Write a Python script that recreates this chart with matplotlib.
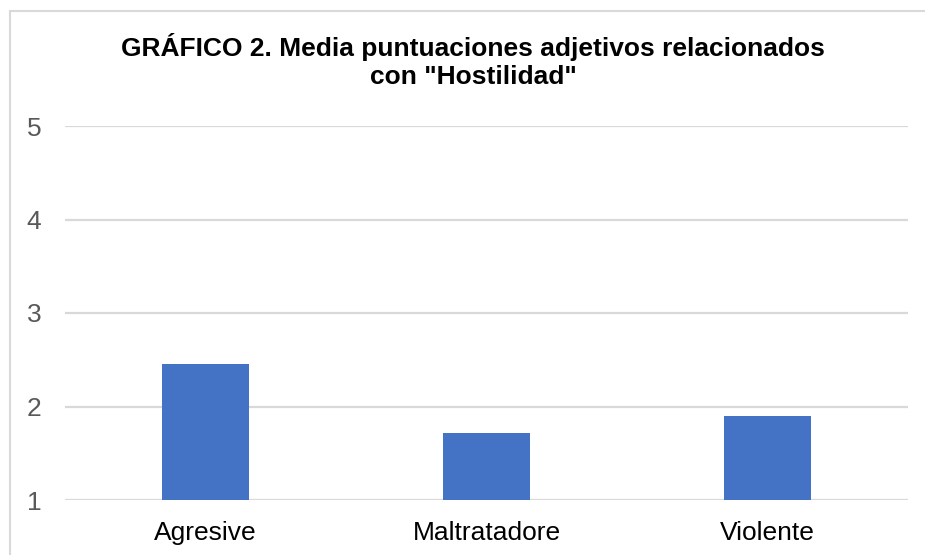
import matplotlib.pyplot as plt
from matplotlib.patches import Rectangle

# datos
categorias = ['Agresive', 'Maltratadore', 'Violente']
medias = [2.45, 1.72, 1.90]
yticks = [1, 2, 3, 4, 5]

W, H = 925, 555
fig = plt.figure(figsize=(W / 100, H / 100), dpi=100, facecolor='white')
plt.rcParams['font.family'] = ['Liberation Sans', 'DejaVu Sans']

# marco gris del grafico (abierto por abajo y derecha)
fig.patches.append(Rectangle((9.5 / W, -0.1), 1.2, 1 - 11 / H + 0.1,
                             transform=fig.transFigure, fill=False,
                             edgecolor='#d9d9d9', linewidth=1.5))

ax = fig.add_axes([65 / W, 1 - 500 / H, (908 - 65) / W, (500 - 126) / H])
ax.bar(range(len(categorias)), medias, width=0.31, bottom=0,
       color='#4472c4', zorder=3)
ax.set_xlim(-0.5, 2.5)
ax.set_ylim(1, 5)
ax.set_yticks(yticks)
ax.set_xticks(range(len(categorias)))
ax.set_xticklabels(categorias, fontsize=19, color='#000000')
ax.tick_params(axis='y', labelsize=19, labelcolor='#595959', length=0, pad=17)
ax.tick_params(axis='x', length=0, pad=15)
ax.grid(axis='y', color='#d9d9d9', linewidth=1.6, zorder=0)
for s in ax.spines.values():
    s.set_visible(False)

fig.text(473 / W, 1 - 61 / H,
         'GRÁFICO 2. Media puntuaciones adjetivos relacionados\ncon "Hostilidad"',
         ha='center', va='center', fontsize=19, fontweight='bold',
         linespacing=1.25)

plt.savefig('out.png', dpi=100)
